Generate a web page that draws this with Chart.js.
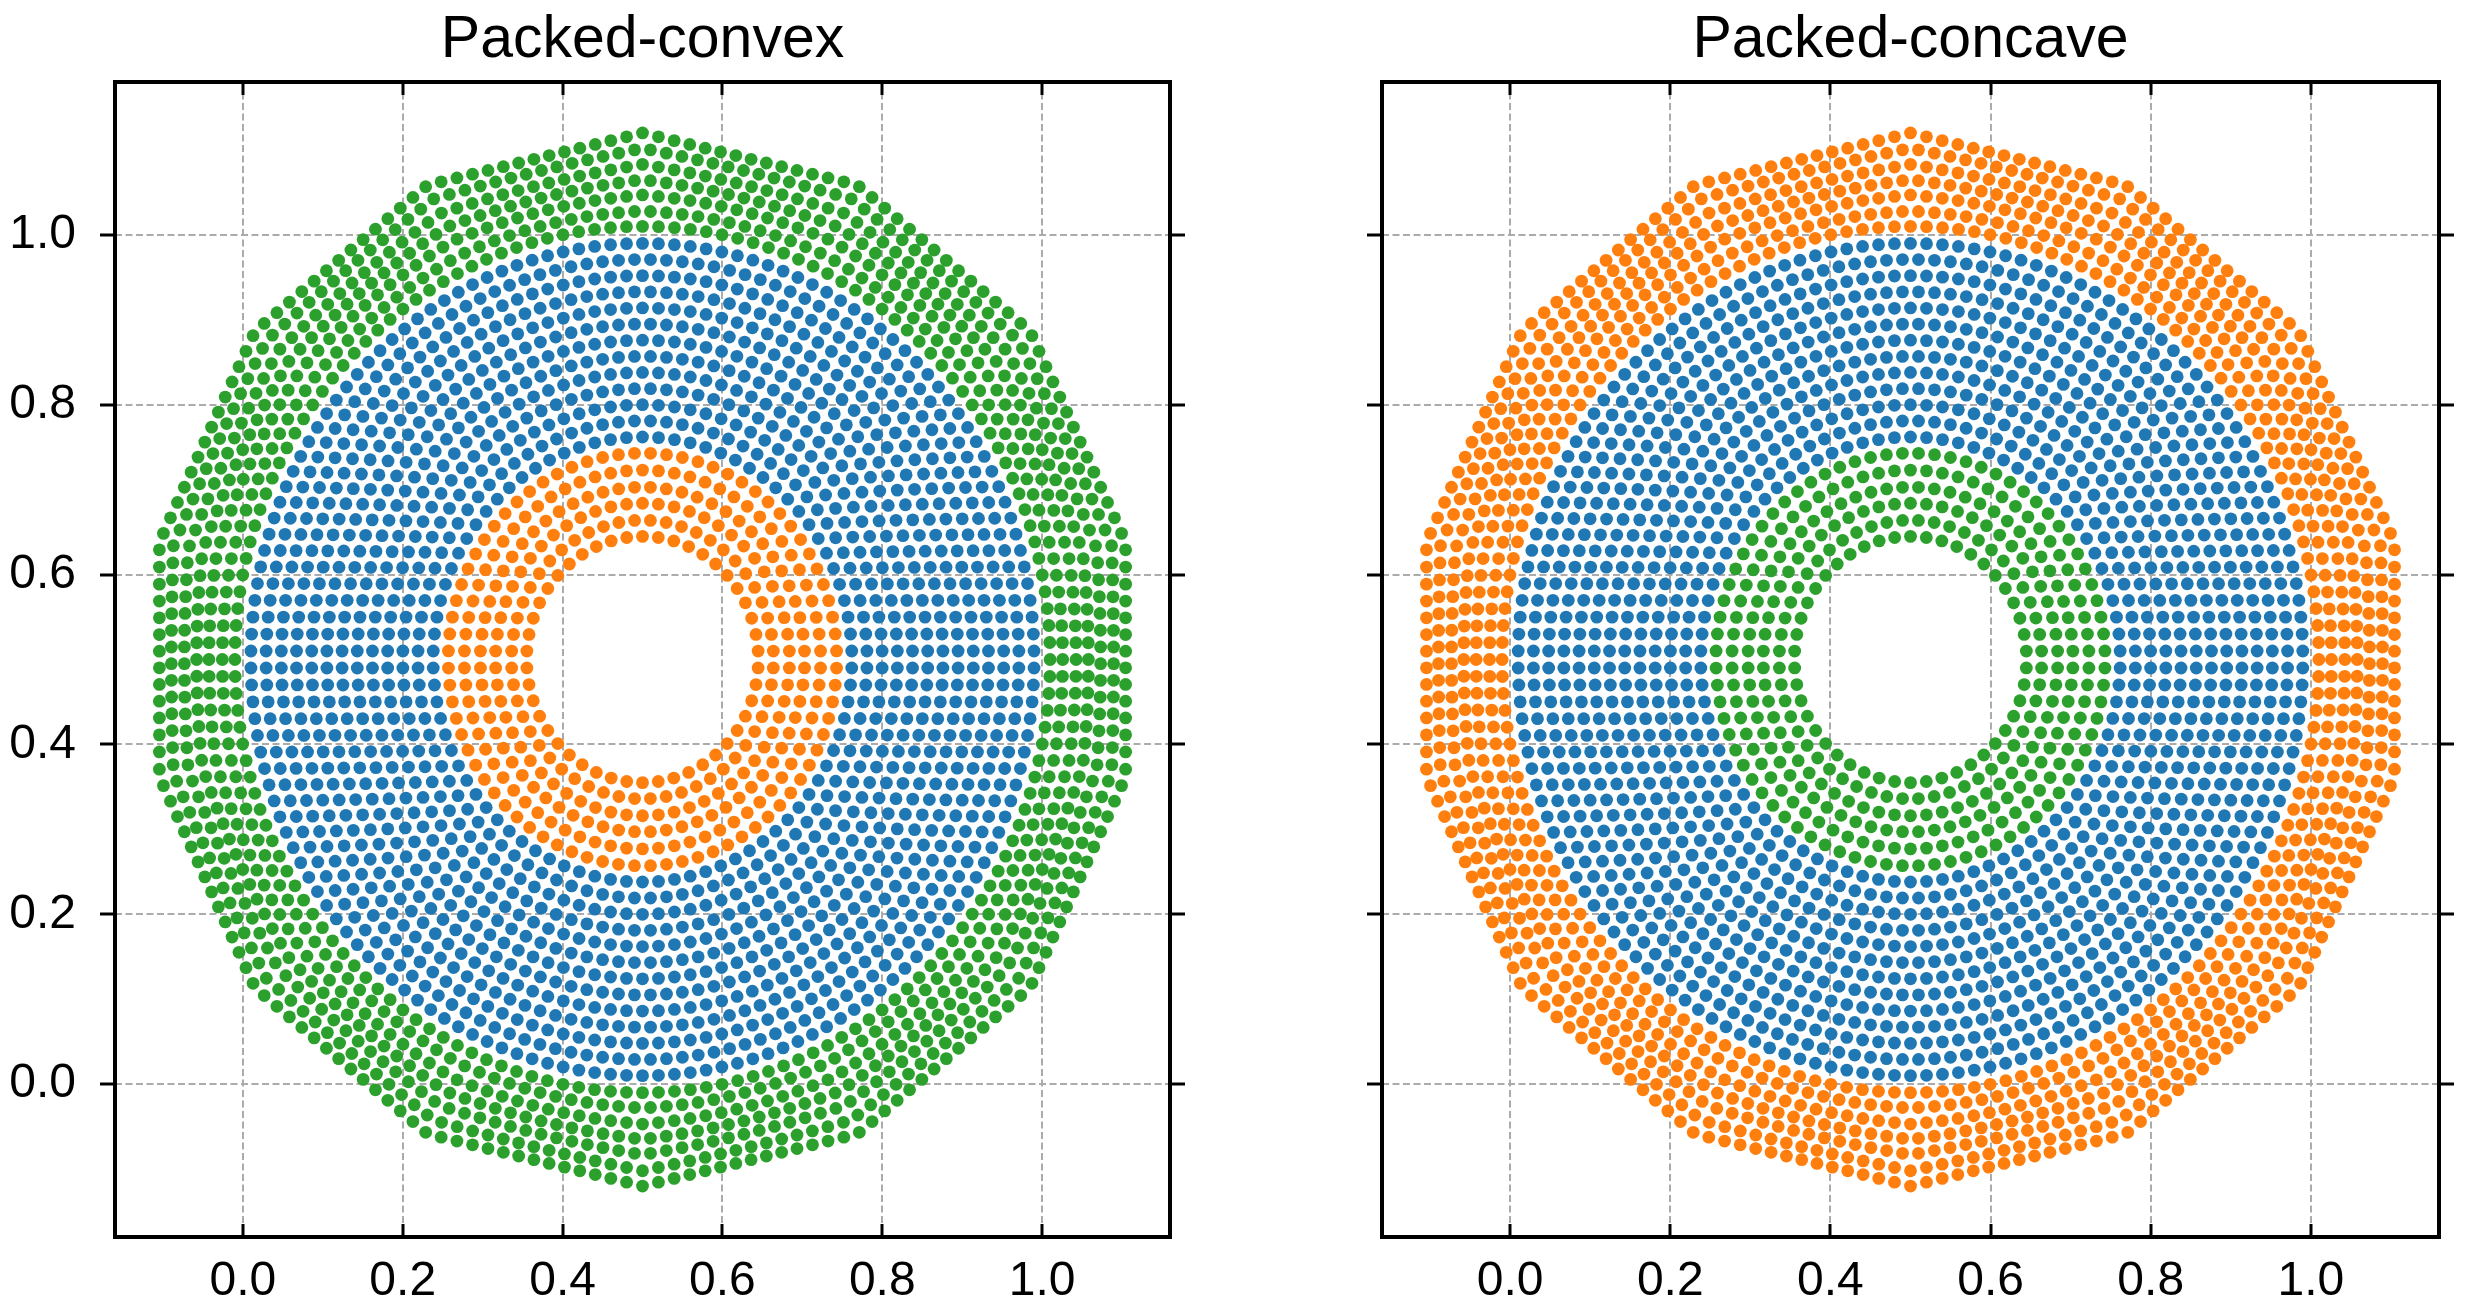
<!DOCTYPE html>
<html>
<head>
<meta charset="utf-8">
<script src="https://cdn.jsdelivr.net/npm/chart.js@4/dist/chart.umd.min.js"></script>
<style>
  html, body { margin: 0; padding: 0; background: #fff; }
  .panel { position: absolute; top: 0; width: 1234px; height: 1313px; }
  #leftPanel { left: 0; }
  #rightPanel { left: 1234px; }
</style>
</head>
<body>
<div class="panel" id="leftPanel"><canvas id="convexChart" width="1234" height="1313"></canvas></div>
<div class="panel" id="rightPanel"><canvas id="concaveChart" width="1234" height="1313"></canvas></div>
<script>
// panel titles
var panelTitles = ['Packed-convex', 'Packed-concave'];

// tick values on both axes
var xTicks = [0.0, 0.2, 0.4, 0.6, 0.8, 1.0];
var yTicks = [0.0, 0.2, 0.4, 0.6, 0.8, 1.0];

// centre of the rings
var centreX = 0.5;
var centreY = 0.5;

// inner band (around the hole)
var innerRadii = [0.145, 0.164, 0.184, 0.203, 0.223, 0.243];
var innerCounts = [46, 52, 58, 64, 70, 76];

// middle band
var middleRadii = [0.262, 0.281, 0.300, 0.319, 0.338, 0.357, 0.376, 0.395, 0.414, 0.433, 0.452, 0.471, 0.490];
var middleCounts = [82, 88, 94, 100, 106, 112, 118, 124, 130, 136, 142, 148, 154];

// outer band, goes from a circle to a 14-sided polygon
var outerRadii = [0.510, 0.528, 0.547, 0.565, 0.583, 0.602, 0.620];
var outerCounts = [160, 166, 172, 178, 183, 189, 194];
var outerFlatness = [0, 0.17, 0.33, 0.5, 0.67, 0.83, 1];
var polygonSides = 14;

var blue = '#1f77b4';
var orange = '#ff7f0e';
var green = '#2ca02c';

// radius factor for a ring that is partly bent to the polygon
function shapeFactor(theta, flat) {
    var seg = 2 * Math.PI / polygonSides;
    var phi = (((theta - Math.PI / 2) % seg) + seg) % seg - seg / 2;
    var poly = Math.cos(seg / 2) / Math.cos(phi);
    return (1 - flat) + flat * poly;
}

// turn ring radii + counts into x/y points
function bandPoints(radii, counts, flatness, outerPhase) {
    var pts = [];
    radii.forEach((r, k) => {
        var n = counts[k];
        var flat = flatness ? flatness[k] : 0;
        // neighbouring rings are staggered by half a step
        var phase = ((radii.length - 1 - k) % 2 === 0) ? outerPhase : outerPhase + 0.5;
        for (var i = 0; i < n; i++) {
            var theta = Math.PI / 2 + 2 * Math.PI * (i + phase) / n;
            var rr = r * shapeFactor(theta, flat);
            pts.push({ x: centreX + rr * Math.cos(theta), y: centreY + rr * Math.sin(theta) });
        }
    });
    return pts;
}

var innerPoints = bandPoints(innerRadii, innerCounts, null, 0.5);
var middlePoints = bandPoints(middleRadii, middleCounts, null, 0);
var outerPoints = bandPoints(outerRadii, outerCounts, outerFlatness, 0);

//axes decorations: dashed grid, thick frame, ticks
var frame = {
    id: 'frame',
    beforeDatasetsDraw(chart) {
        var ctx = chart.ctx;
        var a = chart.chartArea;
        var xs = chart.scales.x, ys = chart.scales.y;
        ctx.save();
        ctx.strokeStyle = '#ababab';
        ctx.lineWidth = 2;
        ctx.setLineDash([7, 3.5]);
        xTicks.forEach(v => {
            var px = Math.round(xs.getPixelForValue(v));
            ctx.beginPath(); ctx.moveTo(px, a.top); ctx.lineTo(px, a.bottom); ctx.stroke();
        });
        yTicks.forEach(v => {
            var py = Math.round(ys.getPixelForValue(v));
            ctx.beginPath(); ctx.moveTo(a.left, py); ctx.lineTo(a.right, py); ctx.stroke();
        });
        ctx.restore();
    },
    afterDraw(chart) {
        var ctx = chart.ctx;
        var a = chart.chartArea;
        var xs = chart.scales.x, ys = chart.scales.y;
        ctx.save();
        ctx.strokeStyle = '#000';
        ctx.lineWidth = 3;
        // x ticks point inward, top and bottom
        xTicks.forEach(v => {
            var px = Math.round(xs.getPixelForValue(v));
            ctx.beginPath(); ctx.moveTo(px, a.bottom); ctx.lineTo(px, a.bottom - 13); ctx.stroke();
            ctx.beginPath(); ctx.moveTo(px, a.top); ctx.lineTo(px, a.top + 13); ctx.stroke();
        });
        // y ticks point outward, left and right
        yTicks.forEach(v => {
            var py = Math.round(ys.getPixelForValue(v));
            ctx.beginPath(); ctx.moveTo(a.left, py); ctx.lineTo(a.left - 15, py); ctx.stroke();
            ctx.beginPath(); ctx.moveTo(a.right, py); ctx.lineTo(a.right + 15, py); ctx.stroke();
        });
        ctx.lineWidth = 4;
        ctx.strokeRect(a.left, a.top, a.right - a.left, a.bottom - a.top);
        // title
        ctx.fillStyle = '#000';
        ctx.font = '59px "Liberation Sans", Arial, sans-serif';
        ctx.textAlign = 'center';
        ctx.textBaseline = 'alphabetic';
        ctx.fillText(chart.options.panelTitle, (a.left + a.right) / 2, 57);
        ctx.restore();
    }
};

function makeChart(id, title, colours, yWidth, rightPad, showYLabels) {
    var ctx = document.getElementById(id).getContext('2d');
    return new Chart(ctx, {
        type: 'scatter',
        data: {
            datasets: [
                { label: 'inner', data: innerPoints, backgroundColor: colours[0] },
                { label: 'middle', data: middlePoints, backgroundColor: colours[1] },
                { label: 'outer', data: outerPoints, backgroundColor: colours[2] }
            ]
        },
        options: {
            panelTitle: title,
            responsive: false,
            animation: false,
            devicePixelRatio: 1,
            layout: { padding: { top: 82, right: rightPad, left: 0, bottom: 0 } },
            elements: { point: { radius: 6.4, hoverRadius: 6.4, borderWidth: 0 } },
            plugins: { legend: { display: false }, tooltip: { enabled: false }, title: { display: false } },
            scales: {
                x: {
                    type: 'linear', min: -0.16, max: 1.16,
                    grid: { display: false }, border: { display: false },
                    afterBuildTicks: s => { s.ticks = xTicks.map(v => ({ value: v })); },
                    afterFit: s => { s.height = 76; },
                    ticks: {
                        padding: 8, color: '#000', maxRotation: 0,
                        font: { family: '"Liberation Sans", Arial, sans-serif', size: 48 },
                        callback: v => v.toFixed(1)
                    }
                },
                y: {
                    type: 'linear', min: -0.18, max: 1.18,
                    grid: { display: false }, border: { display: false },
                    afterBuildTicks: s => { s.ticks = yTicks.map(v => ({ value: v })); },
                    afterFit: s => { s.width = yWidth; },
                    ticks: {
                        display: showYLabels, padding: 31, color: '#000',
                        font: { family: '"Liberation Sans", Arial, sans-serif', size: 48 },
                        callback: v => v.toFixed(1)
                    }
                }
            }
        },
        plugins: [frame]
    });
}

var convexChart = makeChart('convexChart', panelTitles[0], [orange, blue, green], 115, 64, true);
var concaveChart = makeChart('concaveChart', panelTitles[1], [green, blue, orange], 148, 29, false);
</script>
</body>
</html>
